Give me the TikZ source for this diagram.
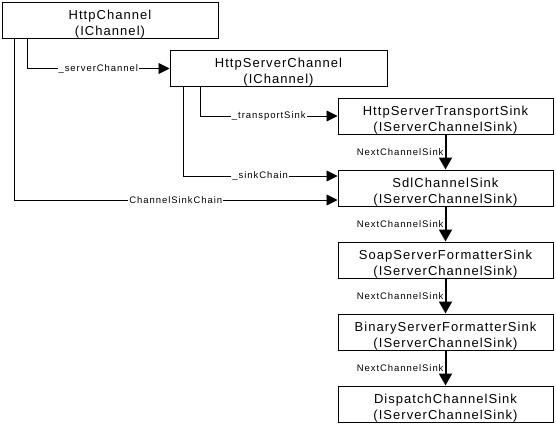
\documentclass[tikz,border=0pt]{standalone}
\usepackage{fontspec}
\setmainfont{Liberation Sans}
\newfontfamily\boxfont[LetterSpace=8]{Liberation Sans}
\newfontfamily\lblfont[LetterSpace=10]{Liberation Sans}
\usetikzlibrary{arrows.meta}
\newcommand{\dnstrut}{\rule{0pt}{17pt}}
\begin{document}
\begin{tikzpicture}[x=1pt,y=-1pt,
  box/.style={draw,line width=1pt,rectangle,minimum width=215pt,minimum height=36pt,inner sep=0pt,align=center,font=\boxfont\fontsize{13}{16}\selectfont},
  link/.style={line width=0.9pt,-{Triangle[length=11pt,width=11pt]}},
  nextlink/.style={line width=2pt,-{Triangle[length=12pt,width=13pt]}},
  lbl/.style={font=\lblfont\fontsize{9.5}{10}\selectfont,fill=white,inner sep=1pt}]
\useasboundingbox (0,0) rectangle (556,426);
\node[box,minimum width=216pt] (b1) at (110,20) {\dnstrut HttpChannel\\(IChannel)};
\node[box,minimum width=217pt,minimum height=35pt] (b2) at (278.5,68.5) {\dnstrut HttpServerChannel\\(IChannel)};
\node[box] (b3) at (445.5,116) {\dnstrut HttpServerTransportSink\\(IServerChannelSink)};
\node[box] (b4) at (445.5,188) {\dnstrut SdlChannelSink\\(IServerChannelSink)};
\node[box] (b5) at (445.5,260) {\dnstrut SoapServerFormatterSink\\(IServerChannelSink)};
\node[box] (b6) at (445.5,332) {\dnstrut BinaryServerFormatterSink\\(IServerChannelSink)};
\node[box] (b7) at (445.5,404) {\dnstrut DispatchChannelSink\\(IServerChannelSink)};
\coordinate (s1) at (27,38);
\coordinate (s2) at (14,38);
\coordinate (s3) at (200,86);
\coordinate (s4) at (183,86);
\draw[link] (s1) |- node[lbl,pos=0.75] {\_serverChannel} (b2.west);
\draw[link] (s2) |- node[lbl,pos=0.75] {ChannelSinkChain} ([yshift=-12pt]b4.west);
\draw[link] (s3) |- node[lbl,pos=0.75] {\_transportSink} (b3.west);
\draw[link] (s4) |- node[lbl,pos=0.75] {\_sinkChain} ([yshift=12pt]b4.west);
\draw[nextlink] (b3.south) -- node[lbl,left,fill=none] {NextChannelSink} (b4.north);
\draw[nextlink] (b4.south) -- node[lbl,left,fill=none] {NextChannelSink} (b5.north);
\draw[nextlink] (b5.south) -- node[lbl,left,fill=none] {NextChannelSink} (b6.north);
\draw[nextlink] (b6.south) -- node[lbl,left,fill=none] {NextChannelSink} (b7.north);
\end{tikzpicture}
\end{document}
